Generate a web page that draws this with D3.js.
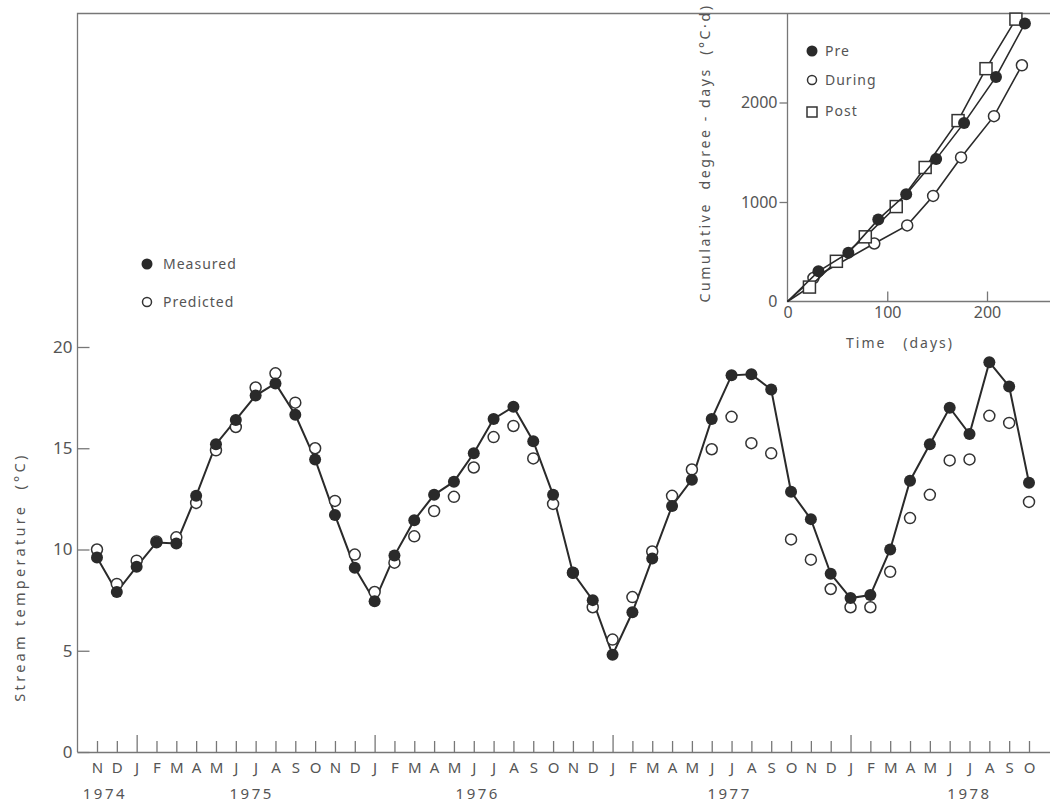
<!DOCTYPE html>
<html>
<head>
<meta charset="utf-8">
<script src="https://cdn.jsdelivr.net/npm/d3@7"></script>
<style>
  body { margin: 0; background: #fff; }
  svg text { font-family: "Noto Sans", "DejaVu Sans", sans-serif; fill: #555; }
</style>
</head>
<body>
<div id="chart"></div>
<script>
// month labels, Nov 1974 .. Oct 1978
var monthLabels = ["N","D",
  "J","F","M","A","M","J","J","A","S","O","N","D",
  "J","F","M","A","M","J","J","A","S","O","N","D",
  "J","F","M","A","M","J","J","A","S","O","N","D",
  "J","F","M","A","M","J","J","A","S","O"];
// year labels and where they sit (month index)
var yearLabels = ["1974","1975","1976","1977","1978"];
var yearPos = [0.4, 7.8, 19.2, 31.9, 44];

// stream temperature (deg C)
var measured = [9.6, 7.9, 9.15, 10.35, 10.3, 12.65, 15.2, 16.4, 17.6, 18.2, 16.65, 14.45,
  11.7, 9.1, 7.45, 9.7, 11.45, 12.7, 13.35, 14.75, 16.45, 17.05, 15.35, 12.7,
  8.85, 7.5, 4.8, 6.9, 9.55, 12.15, 13.45, 16.45, 18.6, 18.65, 17.9, 12.85,
  11.5, 8.8, 7.6, 7.75, 10.0, 13.4, 15.2, 17.0, 15.7, 19.25, 18.05, 13.3];
var predicted = [10.0, 8.3, 9.45, 10.4, 10.6, 12.3, 14.9, 16.05, 18.0, 18.7, 17.25, 15.0,
  12.4, 9.75, 7.9, 9.35, 10.65, 11.9, 12.6, 14.05, 15.55, 16.1, 14.5, 12.25,
  8.85, 7.15, 5.55, 7.65, 9.9, 12.65, 13.95, 14.95, 16.55, 15.25, 14.75, 10.5,
  9.5, 8.05, 7.15, 7.15, 8.9, 11.55, 12.7, 14.4, 14.45, 16.6, 16.25, 12.35];
var yTicks = [0, 5, 10, 15, 20];

// inset: cumulative degree-days
var preDays = [0, 31, 61, 91, 119, 149, 177, 209, 238];
var preDD = [0, 303, 489, 825, 1078, 1431, 1795, 2257, 2795];
var duringDays = [0, 26, 87, 120, 146, 174, 207, 235];
var duringDD = [0, 236, 583, 765, 1061, 1448, 1863, 2374];
var postDays = [0, 22, 49, 78, 109, 138, 171, 199, 229];
var postDD = [0, 145, 404, 650, 954, 1347, 1818, 2340, 2838];
var insetXTicks = [0, 100, 200];
var insetYTicks = [0, 1000, 2000];

var width = 1050, height = 805;
var ink = "#2a2a2a", axisCol = "#777";

var svg = d3.select("#chart").append("svg")
    .attr("width", width)
    .attr("height", height);

//main scales
var x = d3.scaleLinear().domain([0, 47]).range([97, 1029]);
var y = d3.scaleLinear().domain([0, 20]).range([752, 347]);

// frame: top line + left line
svg.append("path")
    .attr("d", "M1050,13.5H77.5V752")
    .attr("fill", "none")
    .attr("stroke", axisCol)
    .attr("stroke-width", 1.3);

// y axis
var yAxis = svg.append("g")
    .attr("transform", "translate(77.5,0)")
    .call(d3.axisLeft(y).tickValues(yTicks).tickSizeInner(-12).tickSizeOuter(0).tickPadding(6));
yAxis.select(".domain").remove();
yAxis.selectAll(".tick line").attr("stroke", axisCol).attr("stroke-width", 1.3);
yAxis.selectAll(".tick text").attr("font-size", 17).attr("x", -5).style("fill", "#555");

// x axis
var xAxis = svg.append("g")
    .attr("transform", "translate(0,752)")
    .call(d3.axisBottom(x).tickValues(d3.range(48)).tickFormat(function(i){ return monthLabels[i]; })
      .tickSizeInner(-11).tickSizeOuter(0).tickPadding(10));
xAxis.select(".domain").attr("d", "M77.5,0.5H1050").attr("stroke", axisCol).attr("stroke-width", 1.3);
xAxis.selectAll(".tick line")
    .attr("stroke", axisCol).attr("stroke-width", 1.3)
    .attr("y2", function(i){ return (i - 2) % 12 == 0 ? -17 : -11; });
xAxis.selectAll(".tick text").attr("font-size", 15).style("fill", "#555");

// year labels
svg.selectAll(".year")
    .data(yearLabels)
    .enter()
    .append("text")
    .attr("class", "year")
    .attr("x", function(d, i){ return x(yearPos[i]); })
    .attr("y", 799)
    .attr("text-anchor", "middle")
    .attr("font-size", 15)
    .attr("letter-spacing", 2.5)
    .text(function(d){ return d; });

// y axis title
svg.append("text")
    .attr("transform", "translate(25,577) rotate(-90)")
    .attr("text-anchor", "middle")
    .attr("font-size", 14.5)
    .attr("letter-spacing", 3.3)
    .attr("xml:space", "preserve")
    .text("Stream temperature  (°C)");

// measured line
var line = d3.line()
    .x(function(d, i){ return x(i); })
    .y(function(d){ return y(d); });
svg.append("path")
    .datum(measured)
    .attr("d", line)
    .attr("fill", "none")
    .attr("stroke", ink)
    .attr("stroke-width", 2);

// predicted points (drawn under measured)
svg.selectAll(".pred")
    .data(predicted)
    .enter()
    .append("circle")
    .attr("class", "pred")
    .attr("cx", function(d, i){ return x(i); })
    .attr("cy", function(d){ return y(d); })
    .attr("r", 5.5)
    .attr("fill", "#fff")
    .attr("stroke", "#333")
    .attr("stroke-width", 1.5);

svg.selectAll(".meas")
    .data(measured)
    .enter()
    .append("circle")
    .attr("class", "meas")
    .attr("cx", function(d, i){ return x(i); })
    .attr("cy", function(d){ return y(d); })
    .attr("r", 6)
    .attr("fill", ink);

// main legend
svg.append("circle").attr("cx", 147).attr("cy", 264).attr("r", 5.5).attr("fill", ink);
svg.append("circle").attr("cx", 147).attr("cy", 302).attr("r", 4.5)
    .attr("fill", "#fff").attr("stroke", "#333").attr("stroke-width", 1.5);
svg.append("text").attr("x", 163).attr("y", 269).attr("font-size", 14).attr("letter-spacing", 1).text("Measured");
svg.append("text").attr("x", 163).attr("y", 307).attr("font-size", 14).attr("letter-spacing", 1).text("Predicted");

// ---------- inset ----------
var xi = d3.scaleLinear().domain([0, 200]).range([787.5, 987]);
var yi = d3.scaleLinear().domain([0, 2000]).range([301.5, 102.5]);

svg.append("path")
    .attr("d", "M787.5,13.5V301.5H1050")
    .attr("fill", "none")
    .attr("stroke", axisCol)
    .attr("stroke-width", 1.3);

var xiAxis = svg.append("g")
    .attr("transform", "translate(0,301.5)")
    .call(d3.axisBottom(xi).tickValues(insetXTicks).tickSizeInner(-10).tickSizeOuter(0).tickPadding(5));
xiAxis.select(".domain").remove();
xiAxis.selectAll(".tick line").attr("stroke", axisCol).attr("stroke-width", 1.3)
    .attr("y2", function(d){ return d == 0 ? 0 : -10; });
xiAxis.selectAll(".tick text").attr("font-size", 16).style("fill", "#555");

var yiAxis = svg.append("g")
    .attr("transform", "translate(787.5,0)")
    .call(d3.axisLeft(yi).tickValues(insetYTicks).tickFormat(d3.format("d"))
      .tickSizeInner(8).tickSizeOuter(0).tickPadding(2));
yiAxis.select(".domain").remove();
yiAxis.selectAll(".tick line").attr("stroke", axisCol).attr("stroke-width", 1.3)
    .attr("x2", function(d){ return d == 0 ? 0 : -8; });
yiAxis.selectAll(".tick text").attr("font-size", 16).style("fill", "#555");

svg.append("text")
    .attr("x", 900).attr("y", 348)
    .attr("text-anchor", "middle")
    .attr("font-size", 14)
    .attr("letter-spacing", 2)
    .attr("xml:space", "preserve")
    .text("Time   (days)");

svg.append("text")
    .attr("transform", "translate(710,153) rotate(-90)")
    .attr("text-anchor", "middle")
    .attr("font-size", 14)
    .attr("letter-spacing", 2.6)
    .attr("xml:space", "preserve")
    .text("Cumulative  degree - days  (°C·d)");

function insetSeries(days, vals, kind){
    var pts = days.map(function(d, i){ return [d, vals[i]]; });
    var ln = d3.line().x(function(p){ return xi(p[0]); }).y(function(p){ return yi(p[1]); });
    svg.append("path")
        .datum(pts)
        .attr("d", ln)
        .attr("fill", "none")
        .attr("stroke", ink)
        .attr("stroke-width", 1.6);
    var marks = pts.slice(1);
    if (kind == "square") {
        svg.selectAll(".sq").data(marks).enter().append("rect")
            .attr("class", "sq")
            .attr("x", function(p){ return xi(p[0]) - 6; })
            .attr("y", function(p){ return yi(p[1]) - 6; })
            .attr("width", 12).attr("height", 12)
            .attr("fill", "#fff").attr("stroke", "#333").attr("stroke-width", 1.5);
    } else {
        svg.selectAll(".c" + kind).data(marks).enter().append("circle")
            .attr("class", "c" + kind)
            .attr("cx", function(p){ return xi(p[0]); })
            .attr("cy", function(p){ return yi(p[1]); })
            .attr("r", kind == "filled" ? 6 : 5.5)
            .attr("fill", kind == "filled" ? ink : "#fff")
            .attr("stroke", kind == "filled" ? "none" : "#333")
            .attr("stroke-width", 1.5);
    }
}
insetSeries(duringDays, duringDD, "open");
insetSeries(postDays, postDD, "square");
insetSeries(preDays, preDD, "filled");

// inset legend
svg.append("circle").attr("cx", 812).attr("cy", 51).attr("r", 5.5).attr("fill", ink);
svg.append("circle").attr("cx", 812).attr("cy", 80).attr("r", 4.5)
    .attr("fill", "#fff").attr("stroke", "#333").attr("stroke-width", 1.5);
svg.append("rect").attr("x", 807).attr("y", 107).attr("width", 10).attr("height", 10)
    .attr("fill", "#fff").attr("stroke", "#333").attr("stroke-width", 1.5);
svg.append("text").attr("x", 825).attr("y", 56).attr("font-size", 14).attr("letter-spacing", 1).text("Pre");
svg.append("text").attr("x", 825).attr("y", 85).attr("font-size", 14).attr("letter-spacing", 1).text("During");
svg.append("text").attr("x", 825).attr("y", 116).attr("font-size", 14).attr("letter-spacing", 1).text("Post");
</script>
</body>
</html>
